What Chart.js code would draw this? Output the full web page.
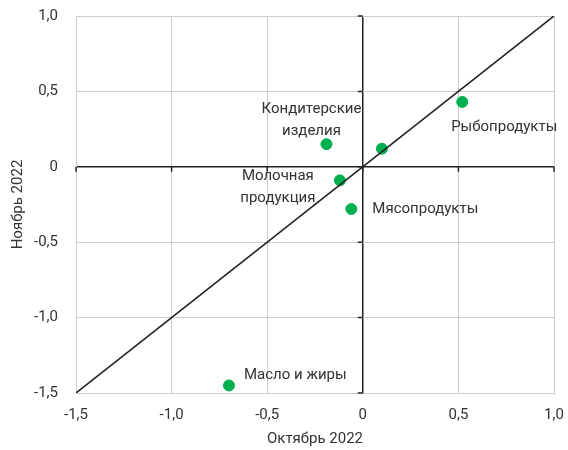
<!DOCTYPE html>
<html lang="ru">
<head>
<meta charset="utf-8">
<script src="https://cdn.jsdelivr.net/npm/chart.js@4"></script>
<style>
  html, body { margin: 0; padding: 0; background: #fff; }
  #wrap { width: 568px; height: 450px; }
</style>
</head>
<body>
<div id="wrap"><canvas id="grafica"></canvas></div>
<script>
// Данные: изменение цен, октябрь 2022 (x) и ноябрь 2022 (y)
const categorias = ['Кондитерские\nизделия', 'Рыбопродукты', '', 'Молочная\nпродукция', 'Мясопродукты', 'Масло и жиры'];
const octubre = [-0.19, 0.52, 0.10, -0.12, -0.06, -0.70];
const noviembre = [0.15, 0.43, 0.12, -0.09, -0.28, -1.45];
const diagonalX = [-1.5, 1.0];
const diagonalY = [-1.5, 1.0];
const tickValores = [-1.5, -1.0, -0.5, 0, 0.5, 1.0];

const TEXTO = '#333333';
const FUENTE = 'Roboto, "Noto Sans", sans-serif';

// posición de cada etiqueta respecto a su punto (px)
const etiquetaPos = [
    { dx: -15, dy: -35, align: 'center' },
    { dx: 42, dy: 25, align: 'center' },
    { dx: 0, dy: 0, align: 'left' },
    { dx: -62, dy: -4, align: 'center' },
    { dx: 21, dy: 0, align: 'left' },
    { dx: 15, dy: -10, align: 'left' }
];

function formatear(v) {
    if (v === 0) return '0';
    return v.toFixed(1).replace('.', ',');
}

// sin relleno automático: el área del gráfico la fija layout.padding
function sinRelleno(s) {
    s.paddingTop = 0;
    s.paddingBottom = 0;
    s.paddingLeft = 0;
    s.paddingRight = 0;
}

// marcas pequeñas sobre los ejes cero
const ejesCero = {
    id: 'ejesCero',
    beforeDatasetsDraw(chart) {
        const { ctx, scales: { x, y } } = chart;
        const x0 = x.getPixelForValue(0);
        const y0 = y.getPixelForValue(0);
        ctx.save();
        ctx.strokeStyle = '#222';
        ctx.lineWidth = 1.5;
        ctx.beginPath();
        tickValores.forEach(v => {
            const px = x.getPixelForValue(v);
            ctx.moveTo(px, y0);
            ctx.lineTo(px, y0 + 5);
            const py = y.getPixelForValue(v);
            ctx.moveTo(x0, py);
            ctx.lineTo(x0 - 5, py);
        });
        ctx.stroke();
        ctx.restore();
    }
};

const etiquetas = {
    id: 'etiquetas',
    afterDatasetsDraw(chart) {
        const { ctx } = chart;
        const meta = chart.getDatasetMeta(1);
        ctx.save();
        ctx.fillStyle = TEXTO;
        ctx.font = '15px ' + FUENTE;
        ctx.textBaseline = 'middle';
        meta.data.forEach((pt, i) => {
            const texto = categorias[i];
            if (!texto) return;
            const p = etiquetaPos[i];
            ctx.textAlign = p.align;
            texto.split('\n').forEach((linea, k) => {
                ctx.fillText(linea, pt.x + p.dx, pt.y + p.dy + k * 22);
            });
        });
        ctx.restore();
    }
};

const colorGrid = c => (c.tick && c.tick.value === 0) ? '#222' : '#cccccc';
const anchoGrid = c => (c.tick && c.tick.value === 0) ? 1.5 : 1;

new Chart(document.getElementById('grafica').getContext('2d'), {
    type: 'scatter',
    data: {
        datasets: [{
            type: 'line',
            data: diagonalX.map((v, i) => ({ x: v, y: diagonalY[i] })),
            borderColor: '#222',
            borderWidth: 1.6,
            pointRadius: 0,
            fill: false
        }, {
            data: octubre.map((v, i) => ({ x: v, y: noviembre[i] })),
            backgroundColor: '#00b04f',
            borderColor: '#00b04f',
            pointRadius: 5.5,
            pointHoverRadius: 5.5
        }]
    },
    options: {
        responsive: true,
        maintainAspectRatio: false,
        animation: false,
        layout: { padding: { top: 16, right: 14, left: 0, bottom: 0 } },
        plugins: {
            legend: { display: false },
            tooltip: { enabled: false }
        },
        scales: {
            x: {
                type: 'linear',
                min: -1.5,
                max: 1.0,
                afterBuildTicks: s => { s.ticks = tickValores.map(v => ({ value: v })); },
                afterFit: s => { s.height = 57; sinRelleno(s); },
                ticks: {
                    color: TEXTO,
                    font: { family: FUENTE, size: 15 },
                    padding: 13,
                    callback: v => formatear(v)
                },
                grid: { color: colorGrid, lineWidth: anchoGrid, drawTicks: false },
                border: { display: true, color: '#cccccc' },
                title: {
                    display: true,
                    text: 'Октябрь 2022',
                    color: TEXTO,
                    font: { family: FUENTE, size: 15 },
                    padding: { top: 0, bottom: 2 }
                }
            },
            y: {
                type: 'linear',
                min: -1.5,
                max: 1.0,
                afterBuildTicks: s => { s.ticks = tickValores.map(v => ({ value: v })); },
                afterFit: s => { s.width = 76; sinRelleno(s); },
                ticks: {
                    color: TEXTO,
                    font: { family: FUENTE, size: 15 },
                    padding: 18,
                    callback: v => formatear(v)
                },
                grid: { color: colorGrid, lineWidth: anchoGrid, drawTicks: false },
                border: { display: true, color: '#cccccc' },
                title: {
                    display: true,
                    text: 'Ноябрь 2022',
                    color: TEXTO,
                    font: { family: FUENTE, size: 15 },
                    padding: { top: 9, bottom: 0 }
                }
            }
        }
    },
    plugins: [ejesCero, etiquetas]
});
</script>
</body>
</html>
